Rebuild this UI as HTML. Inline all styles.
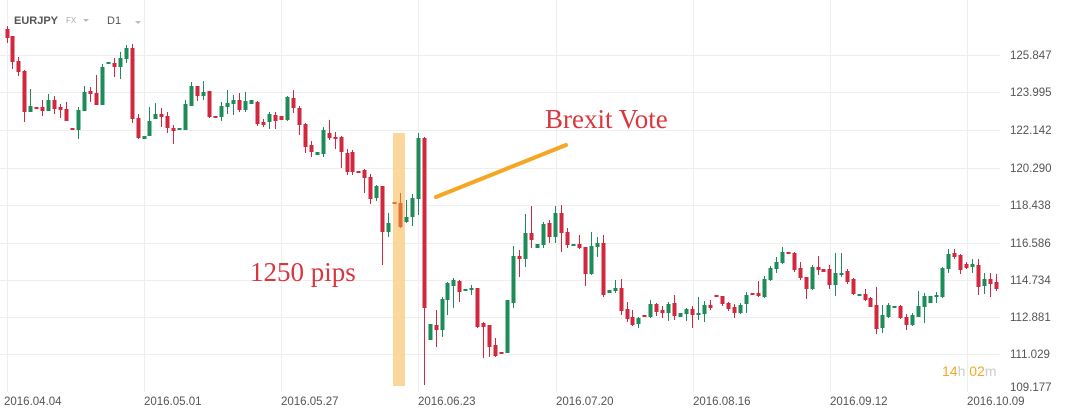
<!DOCTYPE html>
<html><head><meta charset="utf-8"><style>
html,body{margin:0;padding:0;background:#fff;width:1068px;height:416px;overflow:hidden}
svg{display:block}
</style></head><body>
<svg id="s" width="1068" height="416" xmlns="http://www.w3.org/2000/svg" font-family="Liberation Sans, sans-serif">
<g id="grid" stroke="#eeeeee" stroke-width="1"></g>
<rect x="393" y="133" width="12" height="253" fill="#fbd08a" opacity="0.85"/>
<g id="candles"></g>
<line x1="436" y1="197" x2="566" y2="145" stroke="#f5a623" stroke-width="4" stroke-linecap="round"/>
<text x="545" y="128" font-family="Liberation Serif, serif" font-size="27" fill="#d9363e">Brexit Vote</text>
<text x="250" y="281" font-family="Liberation Serif, serif" font-size="27" fill="#d9363e">1250 pips</text>
<text x="14" y="24" font-size="11" font-weight="bold" fill="#555">EURJPY</text>
<text x="66" y="23" font-size="8" fill="#aaa">FX</text>
<path d="M83 19 L89 19 L86 22 Z" fill="#bbb"/>
<text x="107" y="24" font-size="11" fill="#555">D1</text>
<path d="M135 21 L141 21 L138 24 Z" fill="#bbb"/>
<text x="942" y="376" font-size="14" fill="#f5a623">14<tspan fill="#ccc">h</tspan> 02<tspan fill="#ccc">m</tspan></text>
<g id="lab" font-size="11.5" fill="#555"></g>
</svg>
<script>
(function(){
var NS="http://www.w3.org/2000/svg";
function el(p,t,a,txt){var e=document.createElementNS(NS,t);for(var k in a)e.setAttribute(k,a[k]);if(txt)e.textContent=txt;document.getElementById(p).appendChild(e);}
var prices=["125.847","123.995","122.142","120.290","118.438","116.586","114.734","112.881","111.029","109.177"];
var py=[55,92,130,168,205,243,280,317,354,387];
for(var i=0;i<prices.length;i++){if(i<9)el("grid","line",{x1:0,x2:1000,y1:py[i]+.5,y2:py[i]+.5});el("lab","text",{x:1010,y:py[i]+4},prices[i]);}
var gx=[7,144,281,418,556,693,830,967],dl=["2016.04.04","2016.05.01","2016.05.27","2016.06.23","2016.07.20","2016.08.16","2016.09.12","2016.10.09"];
for(var i=0;i<gx.length;i++){el("grid","line",{x1:gx[i]+.5,x2:gx[i]+.5,y1:0,y2:392});el("lab","text",{x:i==0?4:gx[i],y:405},dl[i]);}
var C=[[7,29,38,26,43],[12,36,62,36,69],[18,61,72,57,76],[24,71,112,70,122],[30,112,106,89,112],[36,107,109],[42,107,111,100,116],[48,111,100,94,111],[54,100,109,96,114],[60,107,110,104,118],[66,109,121,102,121],[72,128,130],[78,130,110,107,139],[84,111,92,86,111],[90,91,94,87,102],[96,93,105,75,105],[102,105,67,64,105],[108,64,62],[114,63,67,58,77],[120,67,58,52,79],[126,59,48,45,63],[132,48,119,44,123],[138,118,138,114,139],[144,139,136],[149,136,121,107,136],[155,119,114,103,119],[161,114,117,108,127],[167,116,128,112,133],[173,128,131,125,144],[179,129,128],[185,130,104,100,130],[191,106,86,82,106],[197,86,96,86,101],[203,96,92,81,100],[209,91,117,91,118],[215,116,117],[221,117,106,102,121],[227,107,103,90,114],[233,104,100,95,115],[239,100,110,93,112],[245,110,101,92,112],[251,104,100],[257,102,124,101,126],[263,122,125,119,127],[269,122,114,112,129],[275,115,121,112,129],[281,116,120],[287,120,97,96,121],[293,98,108,90,113],[299,108,125,106,135],[305,124,147,123,153],[311,145,152,141,157],[317,155,152],[323,154,130,127,157],[329,133,138,120,140],[335,137,139,132,149],[341,137,152,136,168],[347,153,172,149,175],[352,152,172,150,175],[358,171,172],[364,170,178,169,193],[370,177,199,174,204],[376,198,186,185,201],[382,186,232,186,265],[388,232,223,213,237],[394,202,204],[400,203,227,193,228],[406,222,217,200,223],[412,217,198,194,226],[418,199,138,133,215],[424,138,308,137,385],[430,340,324],[436,325,330,310,347],[442,330,299,297,337],[447,300,283,282,315],[453,286,280,278,308],[459,281,292,280,302],[465,290,289],[471,290,288,285,295],[477,288,327,288,328],[483,323,327,322,358],[489,325,347,325,357],[495,345,356,338,357],[501,352,353],[507,353,300],[513,303,256,246,308],[519,256,259,250,277],[525,259,233,214,267],[531,233,240,206,248],[537,248,244],[543,245,224,222,248],[549,223,237,220,243],[555,237,213,206,243],[561,213,233,205,252],[567,232,245,228,248],[573,245,244],[579,244,248,235,249],[585,247,274,247,286],[591,274,246,232,275],[597,247,243,237,257],[603,243,295,235,297],[609,293,290],[615,291,288,280,293],[621,288,311,279,315],[627,309,319,302,322],[632,317,325,310,326],[638,324,318,317,328],[644,315,317],[650,317,304,300,318],[656,304,312,303,316],[662,310,313,306,318],[668,313,304,302,321],[674,303,316,295,320],[680,317,313],[686,314,309,308,321],[692,309,315,306,328],[698,315,313,297,320],[704,314,305,301,322],[710,305,308,300,310],[716,295,297],[722,296,304,296,306],[728,303,309,302,311],[734,307,313,304,318],[740,313,305,303,314],[746,304,295,292,313],[752,293,295],[758,293,296,281,297],[764,297,279,276,298],[770,280,268,266,281],[776,269,262,257,273],[782,263,252,247,264],[788,252,254],[794,253,270,252,272],[800,268,278,262,280],[806,277,289,277,299],[812,289,267,265,290],[818,267,270,256,275],[823,269,272],[829,269,285,265,289],[835,285,273,253,296],[841,275,273,253,277],[847,271,282,269,284],[853,279,294,278,295],[859,296,294],[865,294,300,289,301],[870,298,307,297,307],[876,305,329,287,334],[882,328,315,305,333],[888,317,305,303,318],[894,307,306],[900,306,318,305,319],[906,317,325,314,330],[912,325,315,313,326],[918,317,306,291,317],[924,307,296,293,323],[930,303,296],[936,297,295,292,303],[942,297,268,267,298],[948,269,254,249,273],[954,253,257,249,259],[960,255,270,254,274],[966,264,268,262,269],[972,267,264,259,273],[978,265,287,259,295],[984,286,279,273,294],[990,279,284,273,297],[996,282,289,274,291]];
for(var i=0;i<C.length;i++){var c=C[i],x=c[0],o=c[1],cl=c[2];var h=c.length>3?c[3]:Math.min(o,cl),l=c.length>4?c[4]:Math.max(o,cl);
var g=cl<o;var col=(x>=393&&x<=405)?"#e0703a":(g?"#1e8c5a":"#d2283f");
var by=Math.min(o,cl),bh=Math.max(2,Math.abs(o-cl));
el("candles","line",{x1:x+.5,x2:x+.5,y1:h,y2:l,stroke:col,"stroke-width":1});
el("candles","rect",{x:x-1.5,y:by,width:4,height:bh,fill:col});}
})();
</script>
</body></html>
